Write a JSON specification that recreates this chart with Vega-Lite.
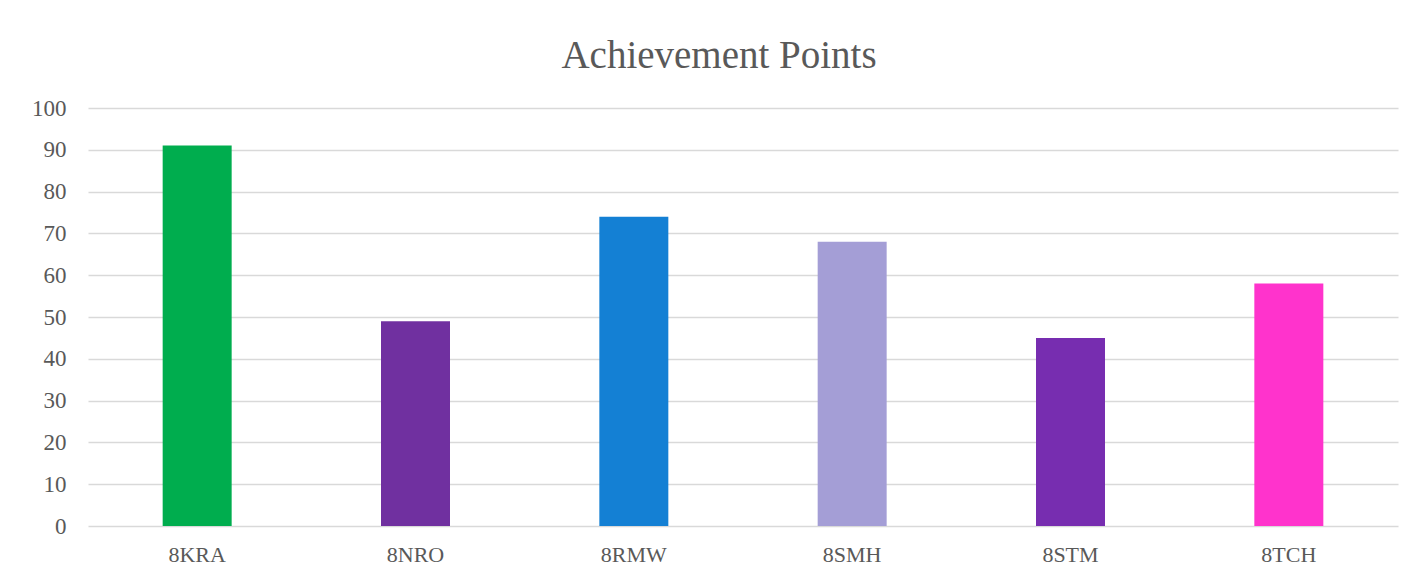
{
  "$schema": "https://vega.github.io/schema/vega-lite/v6.json",
  "autosize": "none",
  "width": 1310,
  "height": 418,
  "padding": {"left": 88, "top": 108, "right": 20, "bottom": 52},
  "background": "white",
  "title": {
    "text": "Achievement Points",
    "font": "Liberation Serif",
    "fontSize": 39,
    "fontWeight": "normal",
    "color": "#595959",
    "anchor": "middle",
    "baseline": "alphabetic",
    "offset": 38,
    "dy": 48,
    "dx": -24
  },
  "data": {
    "values": [
      {"class": "8KRA", "points": 91, "color": "#00AD4E"},
      {"class": "8NRO", "points": 49, "color": "#7030A0"},
      {"class": "8RMW", "points": 74, "color": "#1480D4"},
      {"class": "8SMH", "points": 68, "color": "#A49ED6"},
      {"class": "8STM", "points": 45, "color": "#772DB0"},
      {"class": "8TCH", "points": 58, "color": "#FF33CC"}
    ]
  },
  "mark": {"type": "bar"},
  "encoding": {
    "x": {
      "field": "class",
      "type": "nominal",
      "sort": null,
      "scale": {"paddingInner": 0.684, "paddingOuter": 0.342},
      "axis": {
        "title": null,
        "labelAngle": 0,
        "labelFont": "Liberation Serif",
        "labelFontSize": 22,
        "labelColor": "#595959",
        "ticks": false,
        "domain": false,
        "labelPadding": 18
      }
    },
    "y": {
      "field": "points",
      "type": "quantitative",
      "scale": {"domain": [0, 100], "nice": false},
      "axis": {
        "title": null,
        "values": [0, 10, 20, 30, 40, 50, 60, 70, 80, 90, 100],
        "labelFont": "Liberation Serif",
        "labelFontSize": 23,
        "labelColor": "#595959",
        "ticks": false,
        "domain": false,
        "labelPadding": 22,
        "gridColor": "#D9D9D9",
        "gridWidth": 1.5
      }
    },
    "color": {"field": "color", "type": "nominal", "scale": null, "legend": null}
  },
  "config": {"view": {"stroke": null}}
}
